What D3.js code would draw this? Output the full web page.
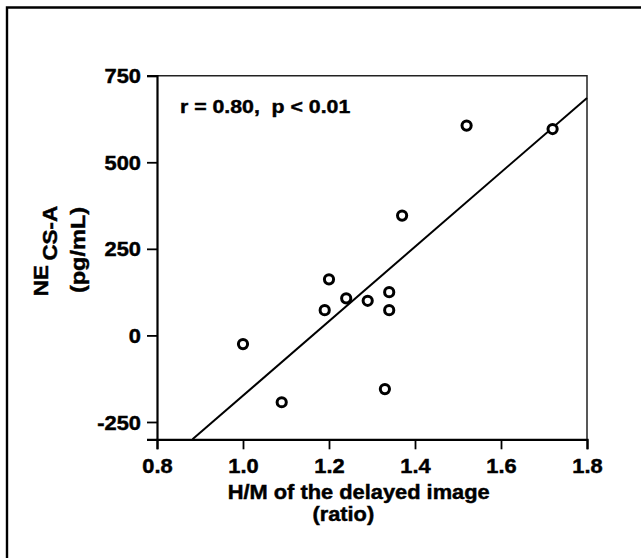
<!DOCTYPE html>
<html>
<head>
<meta charset="utf-8">
<script src="https://cdn.jsdelivr.net/npm/d3@7"></script>
<style>
  html, body { margin: 0; padding: 0; background: #fff; }
  svg text { font-family: "Liberation Sans", Arial, Helvetica, sans-serif; font-weight: bold; fill: #000; stroke: #000; stroke-width: 0.45px; }
</style>
</head>
<body>
<svg class="chart"></svg>
<script>
// H/M ratio of the delayed image vs NE (CS-A)
const hmRatio = [1.52, 1.72, 1.37, 1.20, 1.19, 1.24, 1.29, 1.34, 1.34, 1.00, 1.09, 1.33];
const neValues = [606, 596, 346, 162, 73, 107, 100, 125, 73, -25, -193, -155];

const xTicks = [0.8, 1.0, 1.2, 1.4, 1.6, 1.8];
const yTicks = [-250, 0, 250, 500, 750];
const xDomain = [0.8, 1.8];
const yDomain = [-300, 750];

const statText = "r = 0.80,  p < 0.01";
const xTitle = ["H/M of the delayed image", "(ratio)"];
const yTitleMain = "NE";
const yTitleSub = "CS-A";
const yTitleUnit = "(pg/mL)";

const width = 641;
const height = 558;
const plotLeft = 157, plotRight = 587, plotTop = 75.7, plotBottom = 439.3;
const stretch = 1.12; // the figure's font is wider than Arial

const svg = d3.select('.chart')
  .attr('width', width)
  .attr('height', height);

// figure frame (left and top edges only)
svg.append('path')
  .attr('d', `M7,${height} V7.5 H${width}`)
  .attr('fill', 'none')
  .attr('stroke', '#000')
  .attr('stroke-width', 2.4);

const x = d3.scaleLinear().domain(xDomain).range([plotLeft, plotRight]);
const y = d3.scaleLinear().domain(yDomain).range([plotBottom, plotTop]);

// thin top / right edges of the plot box
svg.append('path')
  .attr('d', `M${plotLeft},${plotTop} H${plotRight} V${plotBottom}`)
  .attr('fill', 'none')
  .attr('stroke', '#222')
  .attr('stroke-width', 1.5);

// x axis
const gx = svg.append('g')
  .attr('transform', `translate(0, ${plotBottom})`)
  .call(d3.axisBottom(x).tickValues(xTicks).tickSize(10).tickFormat(d3.format('.1f')));
gx.select('.domain').attr('stroke-width', 2.2);
gx.selectAll('.tick line').attr('stroke-width', 1.8);
gx.selectAll('.tick text')
  .attr('y', 34)
  .attr('dy', null)
  .attr('transform', `scale(${stretch},1)`)
  .style('font-size', '19.5px')
  .style('font-family', '"Liberation Sans", Arial, sans-serif')
  .style('font-weight', 'bold');

// y axis (plain hyphen for negatives, as in the figure)
const gy = svg.append('g')
  .attr('transform', `translate(${plotLeft}, 0)`)
  .call(d3.axisLeft(y).tickValues(yTicks).tickSize(10).tickFormat(d => String(d)));
gy.select('.domain').attr('stroke-width', 2.2);
gy.selectAll('.tick line').attr('stroke-width', 1.8);
gy.selectAll('.tick text')
  .attr('x', -16 / stretch)
  .attr('dy', '0.36em')
  .attr('transform', `scale(${stretch},1)`)
  .style('font-size', '19.5px')
  .style('font-family', '"Liberation Sans", Arial, sans-serif')
  .style('font-weight', 'bold');

// least squares fit from the points
const mx = d3.mean(hmRatio), my = d3.mean(neValues);
const sxy = d3.sum(hmRatio, (v, i) => (v - mx) * (neValues[i] - my));
const sxx = d3.sum(hmRatio, v => (v - mx) * (v - mx));
const slope = sxy / sxx;
const intercept = my - slope * mx;
const xStart = Math.max(xDomain[0], (yDomain[0] - intercept) / slope);
const xEnd = Math.min(xDomain[1], (yDomain[1] - intercept) / slope);

svg.append('line')
  .attr('x1', x(xStart)).attr('y1', y(slope * xStart + intercept))
  .attr('x2', x(xEnd)).attr('y2', y(slope * xEnd + intercept))
  .attr('stroke', '#000')
  .attr('stroke-width', 2);

// points
svg.selectAll('.pt')
  .data(hmRatio.map((v, i) => ({ h: v, ne: neValues[i] })))
  .enter().append('circle')
  .attr('class', 'pt')
  .attr('cx', d => x(d.h))
  .attr('cy', d => y(d.ne))
  .attr('r', 4.6)
  .attr('fill', '#fff')
  .attr('stroke', '#000')
  .attr('stroke-width', 3);

// correlation note
svg.append('text')
  .attr('transform', `translate(180, 113.3) scale(${stretch},1)`)
  .attr('xml:space', 'preserve')
  .style('font-size', '19px')
  .text(statText);

// x axis title
svg.append('text')
  .attr('transform', `translate(358.7, 499) scale(${stretch},1)`)
  .attr('text-anchor', 'middle')
  .style('font-size', '19.5px')
  .text(xTitle[0]);
svg.append('text')
  .attr('transform', `translate(343.3, 520.5) scale(${stretch},1)`)
  .attr('text-anchor', 'middle')
  .style('font-size', '19.5px')
  .text(xTitle[1]);

// y axis title
const yt = svg.append('text')
  .attr('transform', `translate(48, 251) rotate(-90) scale(${stretch},1)`)
  .attr('text-anchor', 'middle')
  .style('font-size', '20px');
yt.append('tspan').text(yTitleMain);
yt.append('tspan').attr('dx', 4).attr('dy', 9).text(yTitleSub);

svg.append('text')
  .attr('transform', `translate(85, 250) rotate(-90) scale(${stretch},1)`)
  .attr('text-anchor', 'middle')
  .style('font-size', '21px')
  .text(yTitleUnit);
</script>
</body>
</html>
